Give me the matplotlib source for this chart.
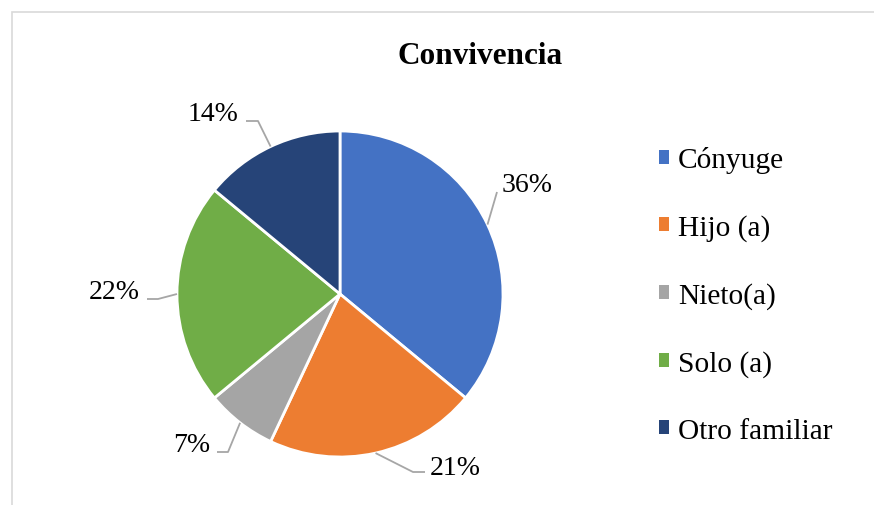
import matplotlib
matplotlib.use("Agg")
import matplotlib.pyplot as plt
from matplotlib.patches import Rectangle, Patch
import numpy as np

plt.rcParams['font.family'] = ['Liberation Serif', 'DejaVu Serif']

title = "Convivencia"
categories = ["Cónyuge", "Hijo (a)", "Nieto(a)", "Solo (a)", "Otro familiar"]
values = [36, 21, 7, 22, 14]
colors = ["#4472C4", "#ED7D31", "#A5A5A5", "#70AD47", "#264478"]

W, H = 874, 506
fig = plt.figure(figsize=(W / 100, H / 100), dpi=100)

# pie geometry in pixels
cx, cy, R = 340, 295, 163
ax = fig.add_axes([0, 0, 1, 1])

wedges, _ = ax.pie(values, colors=colors, startangle=90, counterclock=False,
                   radius=1, center=(0, 0),
                   wedgeprops=dict(edgecolor='white', linewidth=2.0))
ax.set_aspect('auto')
ax.set_xlim(-cx / R, (W - cx) / R)
ax.set_ylim(-(H - cy) / R, cy / R)
ax.axis('off')

def px(dx, dy):
    return dx / R, dy / R

layout = [
    # elbow, line end, text pos, ha
    (px(157, 102), px(157, 102), px(162, 112), 'left'),
    (px(73, -178), px(85, -178), px(90, -171), 'left'),
    (px(-112, -158), px(-123, -158), px(-130, -148), 'right'),
    (px(-182, -5), px(-193, -5), px(-200, 5), 'right'),
    (px(-82, 173), px(-94, 173), px(-102, 183), 'right'),
]

total = sum(values)
cum = 0
for v, (elb, end, tp, ha) in zip(values, layout):
    mid = np.deg2rad(90 - (cum + v / 2) / total * 360)
    cum += v
    sx, sy = np.cos(mid), np.sin(mid)
    ax.plot([sx, elb[0], end[0]], [sy, elb[1], end[1]], color='#A6A6A6', lw=1.3,
            solid_capstyle='butt', zorder=1)
    ax.text(tp[0], tp[1], f"{v}%", ha=ha, va='center_baseline', fontsize=20, color='black')

fig.text(480 / W, 1 - 57 / H, title, ha='center', va='center', fontsize=22.5,
         fontweight='bold', color='black')

handles = [Patch(facecolor=c, edgecolor='none') for c in colors]
leg = fig.legend(handles, categories, loc='center left',
                 bbox_to_anchor=(659 / W, 1 - 296 / H), frameon=False,
                 fontsize=21.2, handlelength=0.35, handleheight=0.35,
                 handletextpad=0.3, labelspacing=1.39, borderpad=0, borderaxespad=0)

# outer frame
fig.patches.append(Rectangle((11.5 / W, -0.1), 1.2, 1 - 12.5 / H + 0.1,
                             transform=fig.transFigure, fill=False,
                             edgecolor='#D9D9D9', lw=1.2))

fig.savefig("out.png", dpi=100)
